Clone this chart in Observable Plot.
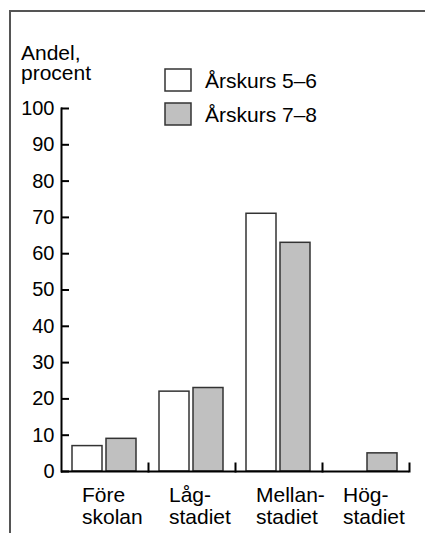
<!DOCTYPE html>
<html><head><meta charset="utf-8">
<script src="https://cdn.jsdelivr.net/npm/d3@7"></script>
<script src="https://cdn.jsdelivr.net/npm/@observablehq/plot@0.6"></script>
<style>
body{margin:0;background:#fff;}
#wrap{position:relative;width:425px;height:533px;overflow:hidden;font-family:"Liberation Sans",Arial,sans-serif;}
#wrap svg{position:absolute;left:0;top:0;}
#border{position:absolute;left:9px;top:10px;width:430px;height:540px;border-top:2px solid #555;border-left:2px solid #555;}
</style></head><body><div id="wrap"></div>
<script>
const categories = ["Före skolan", "Lågstadiet", "Mellanstadiet", "Högstadiet"];
const categoryLabels = ["Före\nskolan", "Låg-\nstadiet", "Mellan-\nstadiet", "Hög-\nstadiet"];
const series = ["Årskurs 5–6", "Årskurs 7–8"];
const values56 = [7, 22, 71, 0];
const values78 = [9, 23, 63, 5];
const seriesColors = ["#ffffff", "#c0c0c0"];
const yTicks = [0, 10, 20, 30, 40, 50, 60, 70, 80, 90, 100];
const yTitle = ["Andel,", "procent"];

const data = categories.flatMap((c, i) => [
  {category: c, series: series[0], value: values56[i]},
  {category: c, series: series[1], value: values78[i]}
]);

const font = "'Liberation Sans', Arial, sans-serif";
const plot = Plot.plot({
  width: 425, height: 533,
  marginLeft: 61, marginRight: 16, marginTop: 108, marginBottom: 62,
  style: {fontFamily: font, fontSize: "20px", color: "#000", background: "transparent"},
  fx: {domain: categories, padding: 0, label: null},
  x: {domain: series, paddingInner: 0.114, paddingOuter: 0.314, axis: null},
  y: {domain: [0, 100]},
  color: {domain: series, range: seriesColors},
  marks: [
    Plot.barY(data, {fx: "category", x: "series", y: "value", fill: "series", stroke: "#333", strokeWidth: 1.5}),
    Plot.ruleY([0], {stroke: "#000", strokeWidth: 2}),
    Plot.frame({anchor: "right", insetTop: 355, stroke: "#000", strokeWidth: 2}),
    Plot.frame({anchor: "left", facetAnchor: "left", stroke: "#000", strokeWidth: 2}),
    Plot.axisY({ticks: yTicks, tickSize: -8, tickFormat: () => "", strokeWidth: 2, label: null}),
    Plot.axisY({ticks: yTicks, tickSize: 0, tickPadding: 7, label: null}),
    Plot.axisFx({anchor: "bottom", tickSize: 0, tickPadding: 15, textAnchor: "start", dx: -23, lineHeight: 1.05,
      fontSize: 21, tickFormat: d => categoryLabels[categories.indexOf(d)], label: null})
  ]
});
const wrap = document.getElementById("wrap");
wrap.appendChild(plot);

const ov = d3.select(wrap).append("svg").attr("width", 425).attr("height", 533)
  .style("font-family", font).style("font-size", "21px");
ov.append("text").attr("fill", "#000").selectAll("tspan").data(yTitle).join("tspan")
  .attr("x", 21).attr("y", (d, i) => 60 + i * 20).text(d => d);
const lg = ov.append("g").selectAll("g").data(series).join("g")
  .attr("transform", (d, i) => `translate(165,${69 + i * 34})`);
lg.append("rect").attr("width", 26).attr("height", 22)
  .attr("fill", (d, i) => seriesColors[i]).attr("stroke", "#333").attr("stroke-width", 1.5);
lg.append("text").attr("x", 40).attr("y", 18.5).attr("fill", "#000").text(d => d);

const b = document.createElement("div");
b.id = "border";
wrap.appendChild(b);
</script></body></html>
